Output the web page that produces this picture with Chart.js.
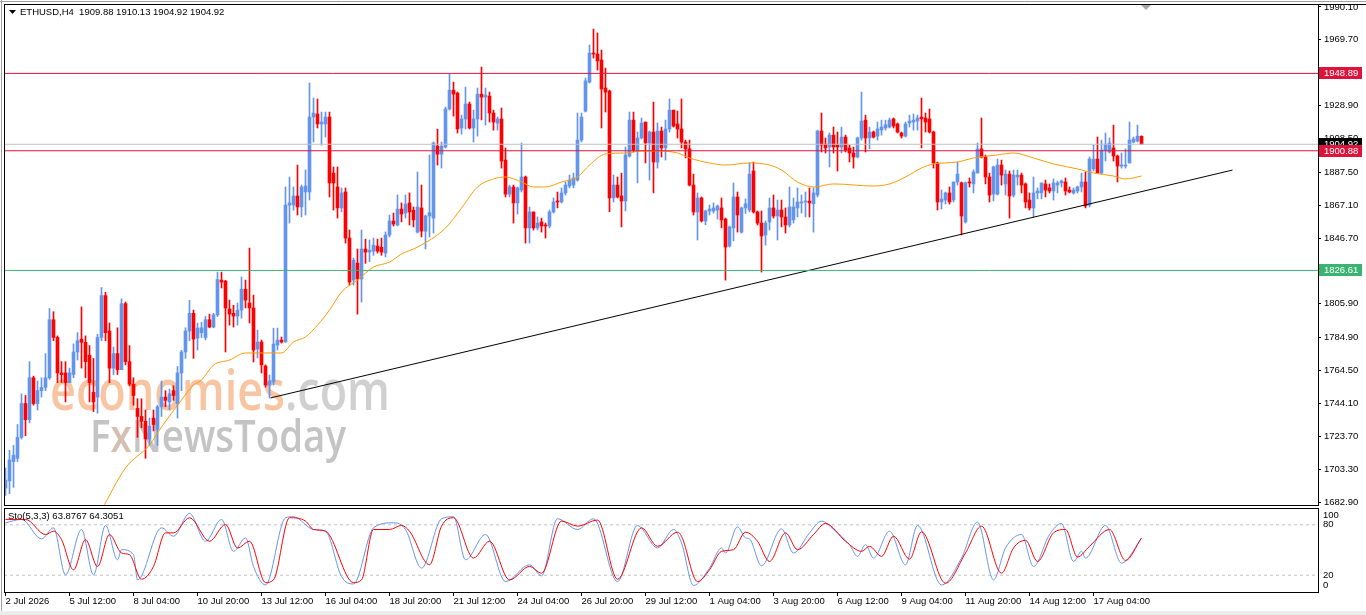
<!DOCTYPE html>
<html>
<head>
<meta charset="utf-8">
<script src="https://cdn.jsdelivr.net/npm/chart.js@4.4.0/dist/chart.umd.min.js"></script>
<style>
  html, body { margin: 0; padding: 0; background: #fff; }
  #wrap { position: relative; width: 1366px; height: 615px; overflow: hidden; background: #fff; }
  #main { position: absolute; left: 0; top: 0; }
  #stoch { position: absolute; left: 0; top: 507px; }
  #strip { position: absolute; left: 0; top: 611px; width: 1366px; height: 4px; background: #ececec; }
</style>
</head>
<body>
<div id="wrap">
  <canvas id="main" width="1366" height="507"></canvas>
  <canvas id="stoch" width="1366" height="108"></canvas>
  <div id="strip"></div>
</div>
<script>
// ETHUSD H4 candles, one entry per bar (bar 0 = 2 Jul 2026)
const opens = [
  1691.5,1696,1708,1710,1723,1744,1734,1760,1744,1752,
  1754,1760,1796,1785,1763,1763,1757,1762,1776,1784,
  1782,1774,1751,1748,1785,1811,1789,1766,1775,1765,
  1806,1770,1756,1741,1736,1733,1722,1735,1728,1742,
  1748,1745,1752,1744,1763,1776,1789,1800,1784.6,1788,
  1785,1796,1791.5,1799,1820.6,1820,1802.7,1800,1798.3,1802,
  1815,1806.4,1803.3,1777.8,1782.2,1767.3,1755.5,1757.4,1780.3,1783.4,
  1782.2,1867.2,1867.2,1872.8,1866,1875.3,1875.3,1921.8,1923.7,1917.5,
  1917.5,1921.8,1887,1878.4,1865.4,1875.3,1846.7,1820.6,1831.2,1821.3,
  1839.9,1838,1838.6,1841.7,1841,1837.4,1848.6,1857.3,1854.8,1864.7,
  1862.2,1868.5,1864,1850.4,1865.4,1851,1860.4,1859.1,1903.8,1898.8,
  1903.2,1926.8,1938.5,1936.7,1915,1920.6,1929.9,1915,1920.6,1936,
  1934.2,1934.8,1924.3,1918,1920.6,1895.1,1874,1878.4,1868.5,1876.5,
  1884.6,1853,1862.9,1853,1856.7,1854.8,1854.2,1862.9,1869.7,1869.1,
  1874.7,1879,1879.6,1882.7,1907.5,1925.5,1943.5,1961.5,1960.9,1957.2,
  1939.8,1937.9,1871.6,1879.6,1872.8,1869.7,1897.6,1919.9,1901.3,1908.8,
  1918.7,1905.7,1912.5,1893.9,1913.1,1902.6,1914.4,1926.1,1917.5,1914.4,
  1906.3,1902,1879.6,1862.9,1871.6,1857.3,1863.5,1863.5,1864.1,1865.4,
  1858.5,1841.7,1853,1872.2,1850.4,1865.4,1864.1,1888.3,1862.9,1856,
  1848.6,1856.7,1865.4,1860.4,1864.1,1859.8,1854.8,1858,1865.4,1868.5,
  1869.1,1869.7,1868,1873.4,1913.1,1905,1903.2,1910.6,1904.4,1903.2,
  1909.4,1902.6,1899.5,1897,1908.8,1919.9,1908.8,1912.5,1910,1913.7,
  1915,1915.6,1920.6,1917.5,1911.9,1910,1918.1,1918.7,1919.3,1921.8,
  1921.2,1920.6,1912.5,1893.3,1869.1,1870.3,1874.7,1870.3,1881.5,1881,
  1856.7,1881.5,1880.3,1887.1,1902,1897,1884.6,1874,1874,1892,
  1880.3,1886.4,1873.4,1884.6,1885.8,1880.3,1870.3,1865.4,1874.7,1874.7,
  1880.3,1877.8,1875.9,1879.6,1880.9,1881.5,1876.5,1874.7,1875.9,1878.4,
  1881.5,1867.2,1889.6,1895.7,1887.1,1901.3,1900.1,1902.6,1897.6,1891.4,
  1891.4,1893.3,1906.3,1906.9,1909.88
];
const highs = [
  1704,1715,1718,1731,1750,1749,1770,1761,1758,1760,
  1775,1803,1801,1786,1770,1770,1766,1781,1788,1804,
  1786,1780,1772,1787,1816,1813,1794,1779,1791,1809,
  1807,1780,1760,1747,1747,1740,1735,1740,1743,1758,
  1752,1753,1755,1767,1777,1791,1808,1802,1793.9,1794.5,
  1798,1799.5,1800,1825.6,1825.6,1820.5,1808.2,1805,1806.4,1822.5,
  1820.6,1840.5,1811.3,1789.6,1783.4,1768,1761.7,1790.8,1790.8,1785.3,
  1878.4,1884.6,1878.4,1892,1879.6,1889,1942.9,1933.6,1933,1924.9,
  1924.9,1924.9,1890.8,1890.8,1877.8,1877.8,1851.7,1834.3,1839.9,1851.7,
  1846,1845.5,1846.7,1846,1846.7,1850.5,1861,1862.2,1873.4,1868.5,
  1873.4,1874.7,1866,1887.7,1879.6,1861,1898.2,1906.3,1914.3,1906.3,
  1928,1948.5,1943.5,1937.3,1923,1940.4,1931.1,1926.1,1939.8,1952.8,
  1939.8,1937.3,1926.1,1921.8,1927.4,1902.6,1879.6,1879.6,1878.4,1905.7,
  1885.2,1866,1862.9,1859.8,1859.1,1856,1864.1,1871.6,1875.3,1877.8,
  1881.5,1885.8,1887,1924.3,1924.3,1946,1966.5,1976.4,1974,1963.4,
  1952.2,1938.5,1885.8,1884.6,1887,1903.2,1924.9,1924.9,1912.5,1921.2,
  1918.7,1913.1,1931.1,1918.1,1915.6,1919.9,1933,1926.1,1925.5,1933,
  1907.5,1907.5,1886.4,1874.7,1872.2,1864.1,1867.2,1868.5,1867.2,1871.6,
  1859.1,1854.2,1880.9,1875.3,1866,1871,1893.3,1893.9,1863.5,1863.5,
  1857.3,1871.6,1873.4,1870.3,1870.3,1865.4,1878.4,1871.6,1877.8,1873.4,
  1875.3,1877.8,1877.8,1913.7,1924.3,1908.8,1911.9,1915.6,1912.5,1915.6,
  1910.6,1904.4,1903.2,1909.4,1937.3,1923,1915.6,1913.1,1918.7,1919.9,
  1919.9,1921.2,1921.2,1918.1,1912.5,1918.7,1923,1923.7,1923,1933.6,
  1924.3,1926.8,1913.1,1893.9,1876.5,1875.3,1878.4,1881.5,1893.9,1881.5,
  1881.5,1884,1889,1905.7,1921.2,1898.2,1887,1891.4,1895.7,1895.1,
  1888.9,1888.3,1888.9,1888.9,1887,1880.9,1874.7,1884.6,1877.8,1880.9,
  1882.7,1880.3,1883.4,1882.1,1882.7,1884,1878.4,1877.8,1879,1887,
  1887.7,1897,1904.4,1909.4,1907.5,1911.9,1908.8,1916.8,1898.2,1899.5,
  1902,1918.7,1909.4,1916.8,1910.13
];
const lows = [
  1687,1688,1692,1708,1722,1724,1732,1743,1740,1748,
  1752,1759,1783,1757,1757,1745,1757,1760,1771,1766,
  1760,1745,1739,1738,1783,1783,1757,1762,1762,1765,
  1768,1755,1743,1723,1729,1710,1718,1727,1718,1736,
  1742,1740,1746,1735,1752,1772,1783,1772,1777.2,1785,
  1783.5,1791,1791,1798,1815.7,1776,1792.7,1791.5,1792.7,1797,
  1803.3,1794,1769.8,1772.3,1763,1754.2,1747.4,1755.5,1777.2,1781.5,
  1782,1856,1864,1861,1859.8,1861,1870.3,1906.3,1915,1904.4,
  1909.4,1872.2,1864.1,1859.1,1863,1843.6,1817.5,1817.5,1799.5,1807,
  1831,1832,1836,1837.4,1836,1835,1847.4,1854.2,1854.2,1856.7,
  1859.1,1854.8,1853.6,1849.8,1847.4,1839.9,1847.4,1849.8,1892,1890.1,
  1902.6,1926.1,1922.4,1911.9,1911.2,1914.4,1914.4,1906.3,1910,1920,
  1916.8,1918.7,1913.7,1913.7,1890.1,1872.2,1872.2,1856,1861.6,1875.3,
  1843.6,1843.6,1851.7,1851.7,1850.4,1846.7,1853,1862.2,1865.4,1868.5,
  1873.4,1877.8,1877.8,1882,1906.3,1924.9,1942.9,1958.4,1951,1915,
  1924.9,1863,1869.1,1871.6,1853.6,1863.5,1897,1900.1,1880.9,1908.2,
  1893.3,1882.7,1874.7,1890.1,1897,1895.1,1912.5,1915.6,1908.8,1902.6,
  1896.4,1879,1861,1845.5,1856.7,1855,1861,1862.2,1858.5,1853,
  1820.6,1841.1,1845,1850.4,1849.8,1862,1862.9,1862.2,1854.8,1825.6,
  1842.3,1851.7,1859.1,1845.5,1853.6,1849.8,1853.6,1856,1859.8,1862.2,
  1859.8,1859.8,1850.4,1872.2,1900.1,1899.5,1890.8,1899.5,1888.3,1899.5,
  1900.1,1893.9,1890.1,1896.4,1907.5,1900.1,1902,1908.8,1907.5,1910.6,
  1913.7,1915,1915,1911.9,1908.8,1909.4,1915.6,1913.7,1913.7,1902.6,
  1912.5,1911.9,1890.1,1864.1,1864.7,1867.8,1867.8,1869.1,1879.6,1848.6,
  1856,1878.4,1874.7,1887.1,1896.4,1880.3,1869.1,1869.7,1873.4,1879.6,
  1873.4,1859.1,1872.2,1879.6,1874.7,1865.4,1864.1,1859.8,1871,1871,
  1872.2,1874.7,1870.3,1874.7,1878.4,1873.4,1874.7,1874,1874.7,1875.3,
  1865.4,1866,1888.3,1887.1,1886.4,1894.5,1899.5,1894.5,1881.5,1890.1,
  1890.1,1893.3,1905.7,1906.3,1904.92
];
const closes = [
  1696.5,1709,1712,1723,1744,1734,1760,1744,1752,1754,
  1760,1796,1785,1763,1762,1757,1763,1776,1783,1782,
  1770,1757,1745,1785,1811,1788,1766,1775,1765,1806,
  1770,1756,1749,1736,1733,1722,1730,1731,1742,1748,
  1746,1750,1749,1763,1776,1789,1800,1784,1790.8,1791,
  1796,1791.5,1799,1821,1819.4,1803.3,1799.5,1798.3,1802,1815,
  1808.2,1803.3,1777.2,1782.2,1768,1755.5,1758,1780.9,1783.4,1782.2,
  1867.2,1868.5,1872.8,1866,1878.4,1879,1921.8,1924.3,1917.5,1918.7,
  1921.8,1880.9,1880.9,1865.4,1874.7,1846.7,1819.4,1833,1821.3,1839.9,
  1838,1839.2,1842.3,1838.6,1838,1848.6,1857.3,1855.4,1864.7,1861.6,
  1867.8,1862.9,1858,1866,1851,1860.4,1862.5,1905.7,1898.8,1903.8,
  1926.8,1938.5,1936,1914.4,1920.6,1929.9,1915,1920.6,1936,1934.2,
  1935.4,1924.3,1918.7,1920.6,1894.5,1874,1878.4,1868.5,1877.8,1884.6,
  1853,1862.9,1853,1856,1854.2,1854.2,1862.9,1869.1,1869.1,1874.7,
  1879.6,1882.7,1884,1907.5,1921.8,1944.2,1961.5,1960.9,1956.6,1939.2,
  1937.3,1871.6,1879.6,1872.2,1869.7,1898.2,1919.9,1901.3,1908.8,1918.1,
  1905.7,1912.5,1893.9,1913.1,1902.6,1914.4,1926.1,1916.2,1914.4,1906.3,
  1902,1879.6,1862.9,1871.6,1857.3,1863.5,1864.7,1865.4,1866.6,1858,
  1841.1,1853.6,1872.2,1861,1865.4,1868,1886.4,1862.9,1856,1848,
  1856,1865.4,1860.4,1864.1,1859.8,1854.8,1866,1866,1869.1,1869.1,
  1869.7,1868.5,1874.7,1913.1,1904.4,1902.6,1910.6,1903.2,1903.2,1909.4,
  1901.3,1899.5,1897,1908.8,1919.3,1908.8,1912.5,1909.4,1914.4,1915.6,
  1917,1919.9,1916.2,1912.5,1910,1917.5,1919.3,1919.9,1921.2,1920.6,
  1918.7,1912.5,1893.3,1869.1,1870.9,1874.7,1869.1,1881.5,1886.4,1860.4,
  1881,1880.9,1887.7,1902,1897,1884.6,1873.4,1890.8,1892,1885.8,
  1886.4,1872.8,1885.8,1885.8,1879.6,1869.1,1865.4,1874.7,1875.9,1880.9,
  1876.5,1875.9,1880.9,1880.9,1882.1,1875.9,1875.3,1876.5,1878.4,1881.5,
  1866.6,1895.7,1895.7,1887.1,1901.3,1905,1905.7,1897.6,1891.4,1892,
  1892,1907.5,1908.2,1910,1904.92
];

// moving average (orange), read at selected bars
const maBars = [24,30,36,39,44,47,49,52,56,60,69,72,75,78,81,84,88,92,96,99,
  103,110,114,118,122,125,129,132,135,139,143,146,150,155,159,163,168,171,176,180,
  186,191,194,198,202,207,217,221,225,229,232,238,242,248,252,257,262,268,272,277,280,284];
const maValues = [1677.9,1704.0,1718.3,1729.4,1746.2,1755.5,1758.6,1767.9,1771.0,1775.4,
  1775.4,1782.2,1785.3,1792.7,1802.0,1813.2,1820.7,1828.7,1831.8,1836.8,
  1841.1,1852.9,1865.3,1878.4,1883.4,1884.6,1881.5,1878.4,1878.4,1881.5,
  1884.6,1892.0,1898.9,1899.5,1900.7,1900.7,1899.5,1896.4,1893.3,1892.0,
  1893.3,1892.0,1888.9,1881.5,1878.4,1880.3,1879.0,1880.3,1884.6,1890.2,
  1892.7,1893.9,1896.4,1898.3,1899.5,1896.4,1892.7,1889.6,1887.1,1885.2,1883.4,1885.2];

// rising trend line
const trendBars = [66.25, 306.75];
const trendValues = [1747.5, 1888.9];

// horizontal levels
const levelValues = [1948.89, 1900.88, 1826.61];
const levelColors = ['#DC143C', '#DC143C', '#3CB371'];
const bidPrice = 1904.92;

// price axis
const priceTicks = [1990.10,1969.70,1928.90,1908.50,1887.50,1867.10,1846.70,1805.90,
  1784.90,1764.50,1744.10,1723.70,1703.30,1682.90];

// stochastic (5,3,3): main (blue) and signal (red)
const kBars = [0,4,9,12,15,19,22,25,28,29,32,33,39,42,46,50,54,57,60,62,
  65,70,72,77,80,84,87,92,97,100,104,109,112,115,120,125,131,134,138,143,
  147,153,158,163,167,169,172,176,179,180,183,185,186,189,194,197,201,204,207,211,
  213,215,217,221,225,228,234,239,243,247,250,254,257,261,264,267,269,270,275,279,284];
const kValues = [82.4,86.4,63.2,76.4,20.4,74.4,20.4,79.2,38.4,50.4,44.4,14.4,76.4,66.4,93.6,60.4,86.4,48.4,64.4,30.4,
  8.4,88.4,89.6,74.4,72.4,18.4,9.6,76.4,82.4,74.4,28.4,87.2,89.6,38.4,68.4,12.4,32.4,19.2,87.2,74.4,
  87.2,12.4,79.2,52.4,74.4,58.4,7.8,28.4,52.4,46.4,77.6,64.4,63.2,31.2,75.2,46.4,70.4,84.4,74.4,56.4,
  42.4,56.4,40.4,72.4,32.4,79.2,8.4,40.4,83.2,14.4,52.4,68.4,30.4,68.4,81.6,36.4,48.4,40.4,79.2,34.4,63.8767];
const dBars = [0,5,10,12,14,17,20,23,26,29,31,34,37,40,42,46,51,55,58,61,
  65,67,71,75,77,80,87,89,92,96,99,101,106,109,112,117,121,126,131,134,
  139,143,148,153,159,163,168,169,173,176,179,182,185,188,191,195,198,202,205,210,
  214,216,219,222,226,229,235,240,244,249,252,255,258,262,265,268,271,276,280,284];
const dValues = [86.4,86.4,68.4,72.4,62.4,26.4,62.4,30.4,68.4,46.4,44.4,15.2,30.4,70.4,70.4,88.4,60.4,80.4,52.4,60.4,
  11.2,14.4,88.4,84.4,74.4,72.4,11.2,14.4,74.4,74.4,79.2,72.4,32.4,78.4,88.4,40.4,60.4,14.4,30.4,22.4,
  84.4,78.4,85.6,15.2,76.4,54.4,71.2,66.4,12.4,26.4,48.4,50.4,71.2,60.4,36.4,70.4,50.4,68.4,81.6,60.4,
  48.4,54.4,42.4,66.4,39.2,71.6,10.4,46.4,78.4,22.4,52.4,61.6,36.4,70.4,74.4,41.6,54.4,74.4,37.6,64.3051];
const stochLevels = [80, 20];
// 0 and 100 are printed just inside the panel, like the terminal does
const stochTickValues = [7.5, 20, 80, 91.7];
const stochTickText = ['0', '20', '80', '100'];

// time axis
const timeTickBars = [0,16,32,48,64,80,96,112,128,144,160,176,192,208,224,240,256,272];
const timeLabels = ['2 Jul 2026','5 Jul 12:00','8 Jul 04:00','10 Jul 20:00','13 Jul 12:00',
  '16 Jul 04:00','18 Jul 20:00','21 Jul 12:00','24 Jul 04:00','26 Jul 20:00','29 Jul 12:00',
  '1 Aug 04:00','3 Aug 20:00','6 Aug 12:00','9 Aug 04:00','11 Aug 20:00','14 Aug 12:00','17 Aug 04:00'];

const headerText = 'ETHUSD,H4  1909.88 1910.13 1904.92 1904.92';
const stochText = 'Sto(5,3,3) 63.8767 64.3051';

const FONT = "'Liberation Sans', Arial, sans-serif";
const BLUE = '#6495ED';
const RED = '#FF0000';
const X_MIN = -0.375, X_MAX = 328.125;
const Y_MIN = 1681.04, Y_MAX = 1991.96;

Chart.defaults.font.family = FONT;
Chart.defaults.font.size = 9.5;
Chart.defaults.color = '#000';

const isUp = i => closes[i] >= opens[i];
const candleColor = ctx => (isUp(ctx.dataIndex) ? BLUE : RED);
const bodyData = opens.map((o, i) => ({ x: i, y: [o, closes[i]] }));
const wickData = opens.map((o, i) => ({ x: i, y: [lows[i], highs[i]] }));
const hline = v => [{ x: X_MIN, y: v }, { x: X_MAX, y: v }];
const lineDs = (data, color, extra) => Object.assign({
  type: 'line', data, borderColor: color, borderWidth: 1, pointRadius: 0, order: 0
}, extra || {});
const smooth = { tension: 0.4, cubicInterpolationMode: 'monotone' };

// no extra room for edge labels: the panels sit flush like the terminal
const noPad = ax => { ax.paddingTop = 0; ax.paddingBottom = 0; ax.paddingLeft = 0; ax.paddingRight = 0; };

function drawFitted(ctx, parts, colors, font, x, baseline, width) {
  ctx.save();
  ctx.font = font;
  const widths = parts.map(p => ctx.measureText(p).width);
  const total = widths.reduce((a, b) => a + b, 0);
  ctx.translate(x, baseline);
  ctx.scale(width / total, 1);
  ctx.textBaseline = 'alphabetic';
  let cx = 0;
  parts.forEach((p, i) => {
    ctx.fillStyle = colors[i];
    ctx.fillText(p, cx, 0);
    cx += widths[i];
  });
  ctx.restore();
}

function priceBox(ctx, y, color, label) {
  ctx.fillStyle = color;
  ctx.fillRect(1319, Math.round(y) - 6, 43, 12);
  ctx.fillStyle = '#fff';
  ctx.font = '9.5px ' + FONT;
  ctx.textBaseline = 'middle';
  ctx.textAlign = 'left';
  ctx.fillText(label, 1324, Math.round(y) + 0.5);
}

const mainDecor = {
  id: 'mainDecor',
  beforeDatasetsDraw(chart) {
    const ctx = chart.ctx;
    drawFitted(ctx, ['economies', '.com'], ['#f8c4a2', '#d0d0d0'], "600 56px 'Open Sans'", 50, 410, 340);
    drawFitted(ctx, ['F', 'x', 'NewsToday'], ['#c4c4c4', '#d4bfb3', '#c4c4c4'], "600 46px 'Open Sans'", 90, 452, 256);
  },
  afterDraw(chart) {
    const ctx = chart.ctx, a = chart.chartArea, ys = chart.scales.y;
    ctx.save();
    // frame
    ctx.strokeStyle = '#000';
    ctx.lineWidth = 1;
    ctx.strokeRect(a.left + 0.5, a.top + 0.5, a.right - a.left, a.bottom - a.top);
    ctx.beginPath();
    ctx.moveTo(a.right, a.top + 0.5); ctx.lineTo(1366, a.top + 0.5);
    ctx.stroke();
    ctx.strokeStyle = '#a0a0a0';
    ctx.beginPath();
    ctx.moveTo(0, 1.5); ctx.lineTo(1366, 1.5);
    ctx.moveTo(1.5, 0); ctx.lineTo(1.5, 507);
    ctx.stroke();
    // shift marker
    ctx.fillStyle = '#a8a8a8';
    ctx.beginPath();
    ctx.moveTo(1141, 5); ctx.lineTo(1151, 5); ctx.lineTo(1146, 10); ctx.closePath();
    ctx.fill();
    // header
    ctx.fillStyle = '#000';
    ctx.beginPath();
    ctx.moveTo(9, 10); ctx.lineTo(16, 10); ctx.lineTo(12.5, 14); ctx.closePath();
    ctx.fill();
    ctx.font = '9.5px ' + FONT;
    ctx.textBaseline = 'middle';
    ctx.fillText(headerText, 20, 12.5);
    // price boxes
    priceBox(ctx, ys.getPixelForValue(bidPrice), '#000', bidPrice.toFixed(2));
    levelValues.forEach((v, i) => priceBox(ctx, ys.getPixelForValue(v), levelColors[i], v.toFixed(2)));
    ctx.restore();
  }
};

new Chart(document.getElementById('main'), {
  type: 'bar',
  data: {
    datasets: [
      lineDs(hline(bidPrice), '#C0C0C0'),
      ...levelValues.map((v, i) => lineDs(hline(v), levelColors[i])),
      lineDs(maBars.map((b, i) => ({ x: b, y: maValues[i] })), '#FF9A00', smooth),
      lineDs(trendBars.map((b, i) => ({ x: b, y: trendValues[i] })), '#000'),
      { label: 'body', data: bodyData, backgroundColor: candleColor, borderWidth: 0,
        barThickness: 3, minBarLength: 1, grouped: false, order: 1 },
      { label: 'wick', data: wickData, backgroundColor: candleColor, borderWidth: 0,
        barThickness: 1, minBarLength: 1, grouped: false, order: 2 }
    ]
  },
  options: {
    responsive: false, animation: false, devicePixelRatio: 1,
    layout: { padding: { left: 4, top: 4, right: 0, bottom: 2 } },
    plugins: { legend: { display: false }, tooltip: { enabled: false } },
    scales: {
      x: { type: 'linear', min: X_MIN, max: X_MAX, display: false, offset: false },
      y: {
        type: 'linear', position: 'right', min: Y_MIN, max: Y_MAX,
        afterBuildTicks: ax => { ax.ticks = priceTicks.map(v => ({ value: v })); },
        afterFit: ax => { ax.width = 48; noPad(ax); },
        grid: { drawOnChartArea: false, drawTicks: true, tickLength: 3, color: '#000' },
        border: { display: false },
        ticks: { autoSkip: false, padding: 3, color: '#000', callback: v => v.toFixed(2) }
      }
    }
  },
  plugins: [mainDecor]
});

const stochDecor = {
  id: 'stochDecor',
  afterDraw(chart) {
    const ctx = chart.ctx, a = chart.chartArea;
    ctx.save();
    ctx.strokeStyle = '#000';
    ctx.lineWidth = 1;
    ctx.strokeRect(a.left + 0.5, a.top + 0.5, a.right - a.left, a.bottom - a.top);
    ctx.strokeStyle = '#a0a0a0';
    ctx.beginPath();
    ctx.moveTo(1.5, 0); ctx.lineTo(1.5, 104);
    ctx.stroke();
    ctx.fillStyle = '#000';
    ctx.font = '9.5px ' + FONT;
    ctx.textBaseline = 'middle';
    ctx.fillText(stochText, 8, 9.5);
    ctx.restore();
  }
};

new Chart(document.getElementById('stoch'), {
  type: 'line',
  data: {
    datasets: [
      ...stochLevels.map(v => lineDs(hline(v), '#C0C0C0', { borderDash: [3, 3], order: 3 })),
      lineDs(kBars.map((b, i) => ({ x: b, y: kValues[i] })), BLUE, Object.assign({ order: 2 }, smooth)),
      lineDs(dBars.map((b, i) => ({ x: b, y: dValues[i] })), RED, Object.assign({ order: 1 }, smooth))
    ].map(d => { delete d.type; return d; })
  },
  options: {
    responsive: false, animation: false, devicePixelRatio: 1,
    layout: { padding: { left: 4, top: 1, right: 0, bottom: 0 } },
    plugins: { legend: { display: false }, tooltip: { enabled: false } },
    scales: {
      x: {
        type: 'linear', min: X_MIN, max: X_MAX, offset: false,
        afterBuildTicks: ax => { ax.ticks = timeTickBars.map(v => ({ value: v })); },
        afterFit: ax => { ax.height = 23; noPad(ax); },
        grid: { drawOnChartArea: false, drawTicks: true, tickLength: 4, color: '#000' },
        border: { display: false },
        ticks: { autoSkip: false, maxRotation: 0, align: 'start', padding: 0,
                 callback: v => timeLabels[timeTickBars.indexOf(v)] }
      },
      y: {
        type: 'linear', position: 'right', min: 0, max: 100,
        afterBuildTicks: ax => { ax.ticks = stochTickValues.map(v => ({ value: v })); },
        afterFit: ax => { ax.width = 48; noPad(ax); },
        grid: { display: false, drawTicks: false },
        border: { display: false },
        ticks: { autoSkip: false, padding: 5, callback: v => stochTickText[stochTickValues.indexOf(v)] }
      }
    }
  },
  plugins: [stochDecor]
});
</script>
</body>
</html>
